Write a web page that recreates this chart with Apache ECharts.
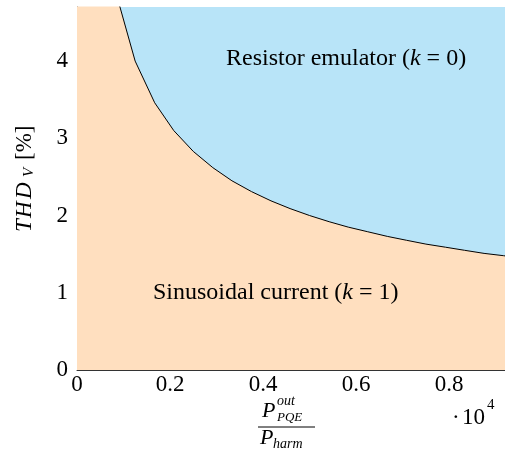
<!DOCTYPE html>
<html>
<head>
<meta charset="utf-8">
<script src="https://cdn.jsdelivr.net/npm/echarts@6/dist/echarts.min.js"></script>
<style>
  html, body { margin: 0; padding: 0; background: #fff; }
  #eChart { width: 505px; height: 450px; }
</style>
</head>
<body>
<div id="eChart"></div>
<script>
// 边界曲线 (x 单位 10^4)
const ratioX = [0, 0.083, 0.125, 0.167, 0.208, 0.25, 0.292, 0.333, 0.375, 0.417, 0.458, 0.5,
  0.542, 0.583, 0.625, 0.667, 0.708, 0.75, 0.792, 0.833, 0.875, 0.917, 0.958];
const thdV = [30, 4.9, 4.0, 3.46, 3.1, 2.83, 2.62, 2.45, 2.31, 2.19, 2.09, 2.0,
  1.92, 1.85, 1.79, 1.73, 1.68, 1.63, 1.59, 1.55, 1.51, 1.48, 1.44];
const xTicks = [0, 0.2, 0.4, 0.6, 0.8];
const yTicks = [0, 1, 2, 3, 4];

const serif = "'Liberation Serif', 'DejaVu Serif', serif";
const peach = "#FFDFBF";
const sky = "#B8E4F8";

const myChart = echarts.init(document.getElementById("eChart"));

// 文字样式
const txt = (x, y, text, font, extra) => ({
  type: "text",
  x,
  y,
  z: 100,
  style: Object.assign({ text, font: font + " " + serif, fill: "#000", verticalAlign: "middle" }, extra || {}),
});
const mathRich = {
  i: { fontStyle: "italic", fontFamily: serif, fontSize: 24 },
};

const option = {
  animation: false,
  grid: {
    left: 77,
    right: 0,
    top: 7,
    bottom: 80,
    show: true,
    backgroundColor: sky,
    borderWidth: 0,
  },
  xAxis: {
    type: "value",
    min: 0,
    max: 0.92,
    interval: 0.2,
    axisLine: { show: true, lineStyle: { color: "#333", width: 1 } },
    axisTick: { show: false },
    splitLine: { show: false },
    axisLabel: {
      showMaxLabel: false,
      color: "#000",
      fontFamily: serif,
      fontSize: 23,
      margin: 3,
      formatter: v => (xTicks.some(t => Math.abs(t - v) < 1e-6) ? String(+v.toFixed(1)) : ""),
    },
  },
  yAxis: {
    type: "value",
    min: 0,
    max: 4.7,
    interval: 1,
    axisLine: { show: true, lineStyle: { color: "#333", width: 1 } },
    axisTick: { show: false },
    splitLine: { show: false },
    axisLabel: {
      showMaxLabel: false,
      color: "#000",
      fontFamily: serif,
      fontSize: 23,
      margin: 9,
      formatter: v => (yTicks.includes(v) ? String(v) : ""),
    },
  },
  series: [
    {
      type: "line",
      data: ratioX.map((x, i) => [x, thdV[i]]),
      showSymbol: false,
      clip: true,
      lineStyle: { color: "#000", width: 1 },
      areaStyle: { color: peach, opacity: 1 },
    },
  ],
  graphic: [
    // 区域标注
    txt(226, 59, "Resistor emulator ({i|k} = 0)", "24px", { rich: mathRich }),
    txt(153, 293, "Sinusoidal current ({i|k} = 1)", "24px", { rich: mathRich }),
    // y轴标题
    {
      type: "group",
      x: 25,
      y: 180,
      z: 100,
      rotation: Math.PI / 2,
      children: [
        txt(-52, 0, "T", "italic 23px"),
        txt(-38, 0, "H", "italic 23px"),
        txt(-19, 0, "D", "italic 23px"),
        txt(3, 4, "V", "italic 15px"),
        txt(20, 0, "[%]", "23px"),
      ],
    },
    // x轴标题 (分数)
    txt(262, 411, "P", "italic 22px"),
    txt(277, 401, "out", "italic 14px"),
    txt(277, 418, "PQE", "italic 13px"),
    { type: "line", z: 100, shape: { x1: 258, y1: 427, x2: 315, y2: 427 }, style: { stroke: "#000", lineWidth: 1 } },
    txt(260, 438, "P", "italic 22px"),
    txt(273, 444, "harm", "italic 14px"),
    // 10^4 倍数
    txt(452, 418, "·", "23px"),
    txt(462, 418, "10", "23px"),
    txt(487, 405, "4", "15px"),
  ],
};

myChart.setOption(option);
</script>
</body>
</html>
